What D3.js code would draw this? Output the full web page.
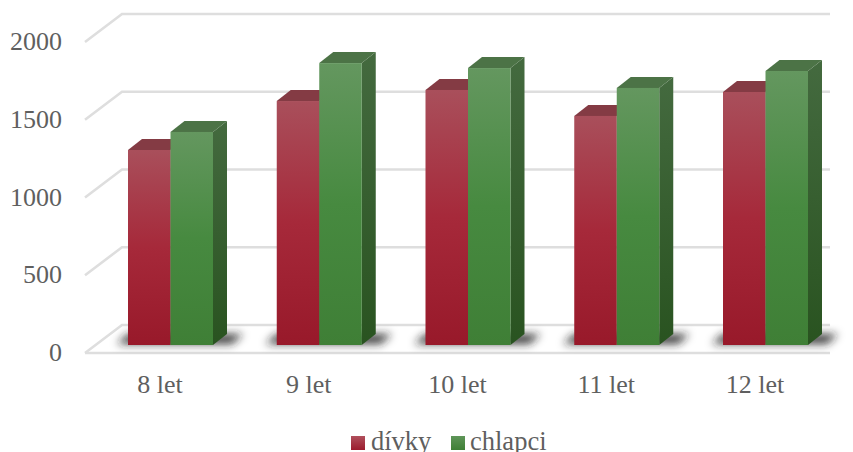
<!DOCTYPE html>
<html><head><meta charset="utf-8">
<script src="https://cdn.jsdelivr.net/npm/d3@7"></script>
<style>html,body{margin:0;padding:0;background:#fff;overflow:hidden}svg{display:block}
text{font-family:"Liberation Serif",serif;fill:#5f5f5f}</style></head>
<body><div id="c"></div>
<script>
const categories=["8 let","9 let","10 let","11 let","12 let"];
const seriesNames=["dívky","chlapci"];
const divky=[1254,1569,1640,1473,1627];
const chlapci=[1370,1813,1781,1653,1762];
const yTicks=[0,500,1000,1500,2000];

const W=853,H=452;
const depthX=37,depthY=28;
const barDX=14,barDY=11;
const svg=d3.select("#c").append("svg").attr("width",W).attr("height",H);
const defs=svg.append("defs");
function grad(id,stops){
  const g=defs.append("linearGradient").attr("id",id).attr("x1",0).attr("y1",0).attr("x2",0).attr("y2",1);
  stops.forEach(s=>g.append("stop").attr("offset",s[0]).attr("stop-color",s[1]));
}
grad("redF",[[0,"#a94f5b"],[.5,"#a6293a"],[1,"#98192a"]]);
grad("greenF",[[0,"#64975f"],[.5,"#478a40"],[1,"#3f7f36"]]);
grad("greenS",[[0,"#446a3f"],[1,"#295320"]]);
grad("redS",[[0,"#6e2a33"],[1,"#5a111c"]]);
grad("redL",[[0,"#b0505c"],[1,"#9c1c2e"]]);
grad("greenL",[[0,"#5f9559"],[1,"#3f8036"]]);
defs.append("filter").attr("id","soft").attr("x","-30%").attr("y","-100%").attr("width","160%").attr("height","300%")
  .append("feGaussianBlur").attr("stdDeviation",4.2);
defs.append("filter").attr("id","line").attr("x","-5%").attr("y","-300%").attr("width","110%").attr("height","700%")
  .append("feGaussianBlur").attr("stdDeviation",0.5);

const floorFront=353, floorLeft=85, floorRight=830;
const y=d3.scaleLinear().domain([0,2000]).range([0,311]);
const x=d3.scaleBand().domain(categories).range([128,128+148.75*5]);
const bw=42.5;

const grid=svg.append("g").attr("fill","none").attr("stroke","#dedede").attr("stroke-width",2.6).attr("filter","url(#line)");
yTicks.forEach(t=>{
  const yF=floorFront-y(t), yB=yF-depthY;
  grid.append("path").attr("d",d3.line()([[floorLeft,yF],[floorLeft+depthX,yB],[floorRight,yB]]));
});
grid.append("path").attr("d",d3.line()([[floorLeft,floorFront],[floorRight,floorFront]]));

const base=345;
const sh=svg.append("g").attr("filter","url(#soft)").attr("fill-opacity",.85);
categories.forEach(c=>{
  const s=x(c);
  sh.append("path").attr("fill","#222").attr("d",d3.line()([[s-11,base-1],[s,base-11],[s+bw*2+barDX+16,base-11],[s+bw*2+barDX+5,base-1]]));
});

function bar(g,x0,v,f,side,top){
  const h=y(v), t=base-h;
  g.append("path").attr("fill",side).attr("d",d3.line()([[x0+bw,t],[x0+bw+barDX,t-barDY],[x0+bw+barDX,base-barDY],[x0+bw,base]]));
  g.append("path").attr("fill",top).attr("d",d3.line()([[x0,t],[x0+barDX,t-barDY],[x0+bw+barDX,t-barDY],[x0+bw,t]]));
  g.append("rect").attr("x",x0).attr("y",t).attr("width",bw).attr("height",h).attr("fill",f);
}
const bars=svg.append("g");
categories.forEach((c,i)=>{
  const s=x(c);
  bar(bars,s,divky[i],"url(#redF)","url(#redS)","#843b44");
  bar(bars,s+bw,chlapci[i],"url(#greenF)","url(#greenS)","#4c7346");
});

svg.append("g").selectAll("text").data(yTicks).join("text")
  .attr("x",62).attr("y",t=>floorFront-y(t)+8).attr("text-anchor","end").attr("font-size",26).text(t=>t);
svg.append("g").selectAll("text").data(categories).join("text")
  .attr("x",c=>x(c)+32).attr("y",393).attr("text-anchor","middle").attr("font-size",26).text(c=>c);

const lx=[351,451], tx=[371,470], lf=["url(#redL)","url(#greenL)"];
const leg=svg.append("g");
seriesNames.forEach((n,i)=>{
  leg.append("rect").attr("x",lx[i]).attr("y",436).attr("width",14).attr("height",14).attr("fill",lf[i]);
  leg.append("text").attr("x",tx[i]).attr("y",450).attr("font-size",26.5).text(n);
});
</script></body></html>
